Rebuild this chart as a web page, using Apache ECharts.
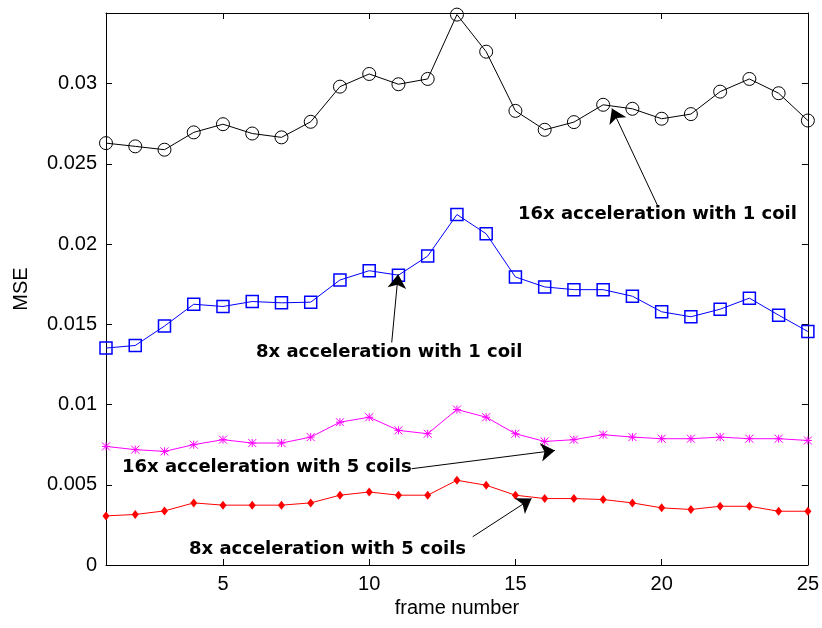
<!DOCTYPE html>
<html>
<head>
<meta charset="utf-8">
<script src="https://cdn.jsdelivr.net/npm/echarts@6/dist/echarts.min.js"></script>
<style>
  html, body { margin: 0; padding: 0; background: #fff; }
  #main { width: 822px; height: 628px; }
</style>
</head>
<body>
<div id="main"></div>
<script>
// frame numbers 1..25
var frames = [1,2,3,4,5,6,7,8,9,10,11,12,13,14,15,16,17,18,19,20,21,22,23,24,25];
var xTicks = [5, 10, 15, 20, 25];

// MSE per frame
var mse16x1 = [0.02629,0.02609,0.02588,0.02696,0.02747,0.02689,0.02665,0.02762,0.02981,0.0306,
               0.02996,0.03029,0.0343,0.03199,0.0283,0.02712,0.0276,0.02868,0.02843,0.02781,
               0.0281,0.0295,0.03029,0.0294,0.0277];
var mse8x1  = [0.01352,0.01368,0.01489,0.01625,0.01611,0.01642,0.01634,0.01638,0.01776,0.01834,
               0.01806,0.01925,0.02184,0.02064,0.01795,0.01733,0.01716,0.01716,0.01675,0.01578,
               0.01547,0.01594,0.01663,0.01557,0.01455];
var mse16x5 = [0.00739,0.00719,0.00708,0.0075,0.00781,0.0076,0.0076,0.00797,0.0089,0.00921,
               0.00839,0.00818,0.00969,0.00921,0.00818,0.0077,0.00781,0.00812,0.00797,0.00787,
               0.00787,0.00797,0.00787,0.00787,0.00776];
var mse8x5  = [0.00306,0.00315,0.00337,0.00387,0.00373,0.00373,0.00373,0.00387,0.00435,0.00455,
               0.00435,0.00435,0.00528,0.00497,0.00435,0.00414,0.00414,0.00408,0.00387,0.00356,
               0.00346,0.00366,0.00366,0.00335,0.00335];

// annotation arrows: [from, to] in data coords
var arrow16x1 = [[19.87, 0.02236], [18.3, 0.02845]];
var arrow8x1  = [[10.77, 0.01387], [10.99, 0.01812]];
var arrow16x5 = [[11.45, 0.0060], [16.35, 0.00714]];
var arrow8x5  = [[13.54, 0.00176], [15.55, 0.00414]];

function pairs(ys) {
    return frames.map(function (f, i) { return [f, ys[i]]; });
}
function arrow(a) {
    return {
        silent: true,
        symbol: ['none', 'arrow'],
        symbolSize: 14,
        label: {show: false},
        lineStyle: {color: '#000', width: 1, type: 'solid'},
        animation: false,
        data: [[{coord: a[0]}, {coord: a[1]}]]
    };
}

var myChart = echarts.init(document.getElementById('main'));
var fontMain = 'Liberation Sans, Arial, sans-serif';
var fontNote = 'DejaVu Sans';

var axisLine = {show: true, onZero: false, lineStyle: {color: '#000', width: 1}};

myChart.setOption({
    animation: false,
    backgroundColor: '#fff',
    grid: {left: 106, right: 14, top: 13, bottom: 63, containLabel: false},
    xAxis: [{
        type: 'value', min: 1, max: 25,
        axisLine: axisLine,
        axisTick: {inside: true, length: 6, lineStyle: {color: '#000'}, customValues: xTicks},
        axisLabel: {customValues: xTicks, color: '#000', fontSize: 20, fontFamily: fontMain, margin: 9},
        splitLine: {show: false},
        name: 'frame number', nameLocation: 'middle', nameGap: 33,
        nameTextStyle: {color: '#000', fontSize: 20, fontFamily: fontMain}
    }, {
        type: 'value', min: 1, max: 25, position: 'top',
        axisLine: axisLine,
        axisTick: {inside: true, length: 6, lineStyle: {color: '#000'}, customValues: xTicks},
        axisLabel: {show: false},
        splitLine: {show: false}
    }],
    yAxis: [{
        type: 'value', min: 0, max: 0.0344, interval: 0.005,
        axisLine: axisLine,
        axisTick: {inside: true, length: 6, lineStyle: {color: '#000'}},
        axisLabel: {color: '#000', fontSize: 20, fontFamily: fontMain, margin: 9, showMaxLabel: false},
        splitLine: {show: false},
        name: 'MSE', nameLocation: 'middle', nameGap: 75,
        nameTextStyle: {color: '#000', fontSize: 20, fontFamily: fontMain}
    }, {
        type: 'value', min: 0, max: 0.0344, interval: 0.005, position: 'right',
        axisLine: axisLine,
        axisTick: {inside: true, length: 6, lineStyle: {color: '#000'}},
        axisLabel: {show: false},
        splitLine: {show: false}
    }],
    series: [{
        name: '16x acceleration with 1 coil',
        type: 'line',
        data: pairs(mse16x1),
        symbol: 'circle', symbolSize: 13,
        lineStyle: {color: '#000', width: 1},
        itemStyle: {color: 'rgba(0,0,0,0)', borderColor: '#000', borderWidth: 1},
        markLine: arrow(arrow16x1)
    }, {
        name: '8x acceleration with 1 coil',
        type: 'line',
        data: pairs(mse8x1),
        symbol: 'rect', symbolSize: 12,
        lineStyle: {color: '#0000ff', width: 1},
        itemStyle: {color: 'rgba(0,0,0,0)', borderColor: '#0000ff', borderWidth: 1.5},
        markLine: arrow(arrow8x1)
    }, {
        name: '16x acceleration with 5 coils',
        type: 'line',
        data: pairs(mse16x5),
        symbol: 'path://M0,0L10,10M10,0L0,10M5,0L5,10M0,5L10,5', symbolSize: 8,
        lineStyle: {color: '#ff00ff', width: 1},
        itemStyle: {color: '#ff00ff', borderColor: '#ff00ff', borderWidth: 1},
        markLine: arrow(arrow16x5)
    }, {
        name: '8x acceleration with 5 coils',
        type: 'line',
        data: pairs(mse8x5),
        symbol: 'diamond', symbolSize: [7, 9],
        lineStyle: {color: '#ff0000', width: 1},
        itemStyle: {color: '#ff0000', borderColor: '#ff0000', borderWidth: 0},
        markLine: arrow(arrow8x5)
    }],
    graphic: [
        {type: 'text', left: 518, top: 205, style: {text: '16x acceleration with 1 coil', fill: '#000', font: 'bold 18px ' + fontNote}},
        {type: 'text', left: 256, top: 343, style: {text: '8x acceleration with 1 coil', fill: '#000', font: 'bold 18px ' + fontNote}},
        {type: 'text', left: 122, top: 458, style: {text: '16x acceleration with 5 coils', fill: '#000', font: 'bold 18px ' + fontNote}},
        {type: 'text', left: 189, top: 540, style: {text: '8x acceleration with 5 coils', fill: '#000', font: 'bold 18px ' + fontNote}}
    ]
});
</script>
</body>
</html>
